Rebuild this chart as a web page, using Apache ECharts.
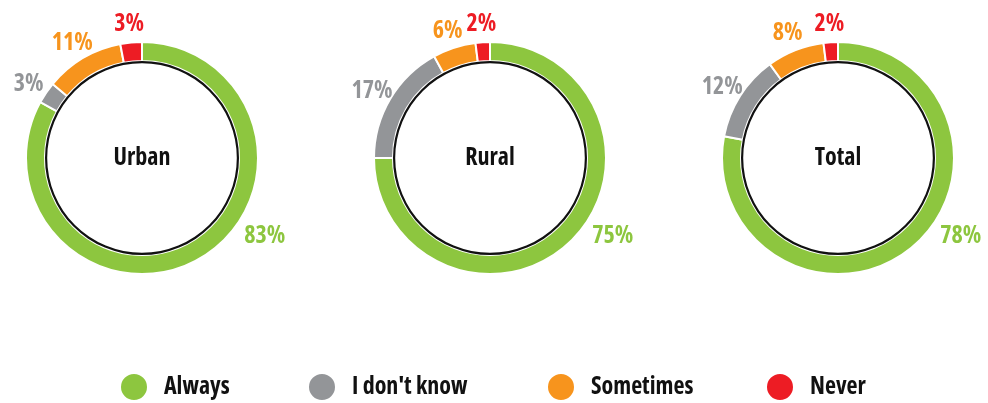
<!DOCTYPE html>
<html>
<head>
<meta charset="utf-8">
<script src="https://cdn.jsdelivr.net/npm/echarts@6/dist/echarts.min.js"></script>
<style>
  html, body { margin: 0; padding: 0; background: #fff; }
  #chart { width: 988px; height: 403px; }
</style>
</head>
<body>
<div id="chart"></div>
<script>
// Answer categories and their colours
const categories = ['Always', "I don't know", 'Sometimes', 'Never'];
const colors = ['#8DC63F', '#939598', '#F7941D', '#ED1C24'];

// Share of respondents (%) per area
const groups = ['Urban', 'Rural', 'Total'];
const urban = [83, 3, 11, 3];
const rural = [75, 17, 6, 2];
const total = [78, 12, 8, 2];
const groupValues = [urban, rural, total];

// Condensed bold face (Open Sans width axis)
const FONT = '"Open Sans", "DejaVu Sans Condensed", sans-serif';
const WEIGHT = 'bold condensed';
const FONT_SIZE = 24;

const centers = [[142, 158], [490, 158], [838, 158]];
const OUTER_R = 116;
const INNER_R = 97;

// Label placement: small slices get their label just outside the slice
// midpoint; the large slice label sits on the lower right of the ring.
const LABEL_R = 137;
const LABEL_DY = 3;
const MAIN_LABEL_ANGLE = 121.5;
const MAIN_LABEL_R = 144;

function labelPosition(values, idx, center) {
  let angle, r;
  if (idx === 0) {
    angle = MAIN_LABEL_ANGLE;
    r = MAIN_LABEL_R;
  } else {
    let sum = 0;
    for (let i = 0; i < idx; i++) sum += values[i];
    const totalSum = values.reduce((a, b) => a + b, 0);
    angle = -(totalSum - sum - values[idx] / 2) / totalSum * 360;
    r = LABEL_R;
  }
  const rad = angle * Math.PI / 180;
  return { x: center[0] + r * Math.sin(rad), y: center[1] - r * Math.cos(rad) + LABEL_DY };
}

const series = [];
groups.forEach((g, gi) => {
  const values = groupValues[gi];
  // Coloured ring
  series.push({
    type: 'pie',
    name: g,
    center: centers[gi],
    radius: [INNER_R, OUTER_R],
    startAngle: 90,
    clockwise: true,
    silent: true,
    avoidLabelOverlap: false,
    itemStyle: { borderColor: '#ffffff', borderWidth: 2 },
    label: {
      show: true,
      position: 'outside',
      formatter: '{c}%',
      fontFamily: FONT,
      fontWeight: WEIGHT,
      fontSize: FONT_SIZE,
      overflow: 'none',
      width: 80
    },
    labelLine: { show: false },
    labelLayout: function (params) {
      const p = labelPosition(values, params.dataIndex, centers[gi]);
      return { x: p.x, y: p.y, align: 'center', verticalAlign: 'middle', hideOverlap: false };
    },
    data: categories.map((c, i) => ({
      name: c,
      value: values[i],
      itemStyle: { color: colors[i] },
      label: { color: colors[i] }
    }))
  });
  // Thin black circle on the inside of the ring, with the area name
  series.push({
    type: 'pie',
    name: g + '-inner',
    center: centers[gi],
    radius: [INNER_R - 2.2, INNER_R],
    silent: true,
    label: {
      show: true,
      position: 'center',
      formatter: '{b}',
      fontFamily: FONT,
      fontWeight: WEIGHT,
      fontSize: FONT_SIZE,
      color: '#111111',
      padding: [2, 0, 0, 0]
    },
    labelLine: { show: false },
    data: [{ name: g, value: 1, itemStyle: { color: '#111111' } }]
  });
});

const legendLefts = [119, 307, 546, 765];
const legends = categories.map((c, i) => ({
  data: [c],
  left: legendLefts[i],
  top: 372,
  padding: 0,
  icon: 'circle',
  itemWidth: 28,
  itemHeight: 28,
  selectedMode: false,
  textStyle: {
    fontFamily: FONT,
    fontWeight: WEIGHT,
    fontSize: FONT_SIZE,
    color: '#111111',
    padding: [6, 0, 0, 11]
  }
}));

const chart = echarts.init(document.getElementById('chart'), null, { renderer: 'canvas' });
chart.setOption({
  animation: false,
  backgroundColor: '#ffffff',
  legend: legends,
  series: series
});
</script>
</body>
</html>
